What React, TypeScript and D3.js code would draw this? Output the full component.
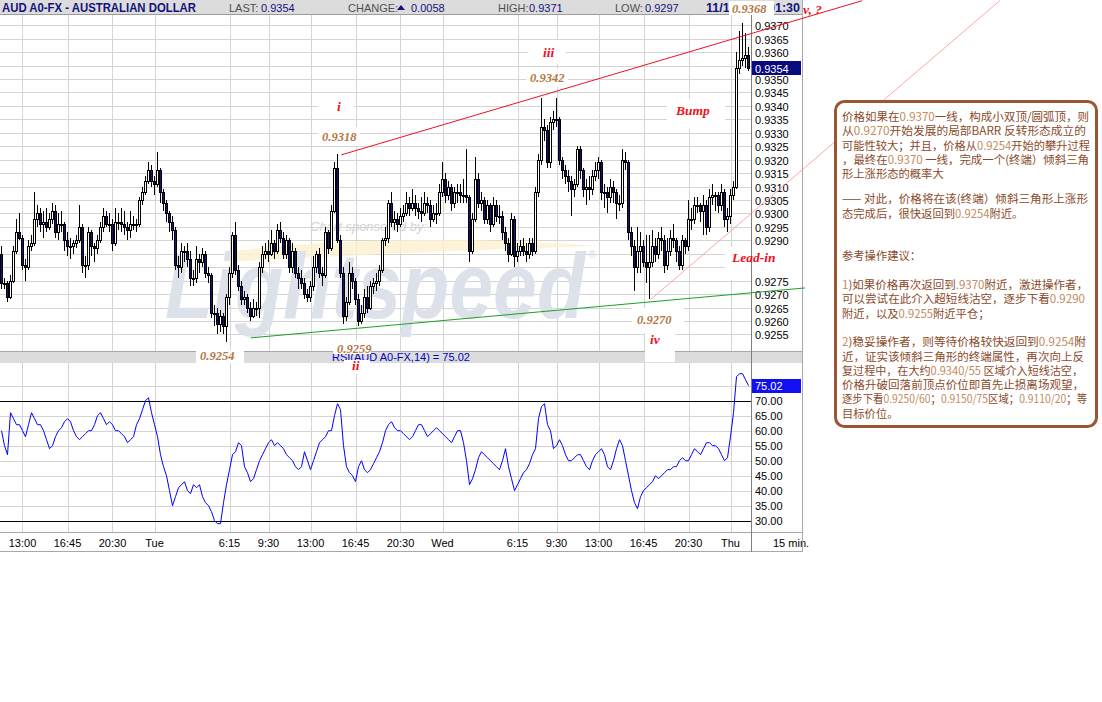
import React from 'react';
import * as d3 from 'd3';

// ---------- DATA (prices in pips above 0.9200, 15-minute bars from Mon 11:15) ----------
const firstOpenPips = 85;
const closePips = [
  74,74,69,75,86,93,91,81,80,88, 89,98,100,96,97,95,98,101,93,96,
  96,90,88,88,89,90,95,81,81,93, 88,87,90,95,99,96,96,89,97,97,
  96,95,94,96,96,96,105,108,112,116, 112,111,116,108,104,100,97,94,81,80,
  86,86,83,76,76,83,82,85,78,77, 63,63,59,62,58,69,78,92,79,73,
  68,69,65,62,65,65,80,85,86,85, 89,86,94,91,85,90,80,86,78,76,
  74,70,69,73,80,85,78,77,93,87, 101,117,90,78,62,67,78,75,68,60,
  63,69,65,73,74,75,79,90,91,104, 97,98,96,99,100,104,102,104,102,101,
  100,104,103,98,100,100,108,113,107,110, 104,108,108,107,107,106,86,98,113,104,
  105,98,103,96,103,99,99,93,89,85, 98,84,86,88,86,85,89,86,108,120,
  132,131,119,134,135,135,120,116,114,112, 109,111,124,116,109,110,109,114,116,119,
  108,108,106,110,108,104,104,120,119,93, 88,80,86,88,82,80,82,88,85,91,
  90,81,86,91,90,86,81,90,88,98, 98,103,103,101,103,95,106,107,107,103,
  108,98,99,107,110,154,157,158,159,154,
];
const highPips = [
  88,76,75,77,88,98,100,92,83,90, 92,108,103,102,101,102,100,104,103,100,
  101,97,93,91,90,92,103,96,84,95, 94,89,92,97,102,101,100,98,102,100,
  102,101,97,101,99,98,106,110,114,119, 118,114,123,117,109,105,101,99,95,84,
  89,88,89,86,79,88,85,87,86,80, 78,66,65,64,63,70,80,93,97,81,
  75,71,70,67,68,67,82,88,89,90, 94,90,96,97,93,92,91,89,87,80,
  79,76,72,75,84,86,87,80,95,94, 103,119,122,92,80,69,82,80,76,70,
  66,72,73,75,76,78,81,91,95,105, 108,101,100,102,103,108,106,109,107,104,
  106,108,106,105,103,104,111,119,115,112, 111,110,111,111,113,124,107,100,121,115,
  108,106,105,104,106,105,103,101,95,91, 100,99,89,90,91,89,91,91,110,122,
  143,135,133,136,138,143,136,121,118,116, 114,113,125,125,117,113,114,116,119,121,
  120,111,110,113,112,109,107,124,123,120, 95,90,95,93,90,92,92,94,91,93,
  95,92,91,94,96,91,88,92,91,105, 102,106,106,104,107,105,109,111,108,108,
  111,109,102,109,112,160,168,171,167,162,
];
const lowPips = [
  72,72,67,68,74,85,90,79,75,79, 86,88,95,93,91,93,94,96,91,90,
  93,86,84,83,85,87,89,78,76,79, 84,82,85,89,93,95,93,86,88,94,
  93,92,90,91,94,93,95,103,107,111, 110,107,110,104,101,97,93,90,79,76,
  78,82,80,73,73,74,78,80,76,74, 61,58,55,56,55,52,66,76,77,71,
  66,66,63,60,61,62,61,78,83,82, 84,83,85,89,83,83,78,78,76,72,
  72,68,67,67,71,78,76,73,76,85, 86,100,89,76,59,60,66,72,66,58,
  59,61,63,64,70,71,73,78,88,89, 95,94,93,95,97,99,99,101,99,98,
  97,99,100,95,97,96,99,106,104,105, 101,102,104,104,104,104,82,85,97,102,
  101,96,96,93,95,97,96,90,86,82, 84,80,82,84,84,82,83,84,85,106,
  118,127,117,117,131,132,118,113,111,108, 99,106,110,113,106,103,105,107,112,113,
  105,102,100,104,104,98,101,102,116,90, 84,71,78,78,80,74,68,80,82,83,
  86,78,79,84,87,82,79,79,85,86, 94,96,100,97,92,92,93,103,101,100,
  101,95,93,96,105,109,152,155,154,153,
];
const rsiValues = [
  60,55,52,66,64,62,62,60,58,62, 66,64,62,62,60,57,54,55,58,60,
  61,63,64,63,60,58,57,58,59,60, 60,62,65,66,64,62,63,62,60,60,
  59,58,56,57,58,62,64,67,70,71, 66,62,58,52,48,45,40,35,38,41,
  42,43,40,39,42,41,42,38,36,35, 33,30,29,29,36,42,47,52,53,56,
  55,48,46,43,44,47,50,52,54,56, 57,55,56,55,54,52,51,50,48,47,
  48,53,50,47,50,53,56,57,58,60, 60,65,69,67,55,48,46,45,43,48,
  50,47,46,47,49,51,53,56,60,62, 63,61,60,60,59,58,57,58,60,62,
  62,60,58,59,60,61,60,59,58,57, 56,58,60,60,56,50,42,44,47,51,
  53,52,51,50,49,48,47,50,54,48, 44,40,42,44,46,47,49,52,54,64,
  68,69,62,60,54,55,57,55,52,50, 50,51,52,52,50,48,47,50,52,53,
  54,52,48,47,50,54,57,55,50,45, 40,36,34,38,40,41,42,43,45,44,
  45,46,47,47,48,48,50,51,50,50, 52,54,53,52,54,56,56,55,55,54,
  52,50,51,58,66,78,79,79,77,75.02,
];
const priceTicks = [0.9370,0.9365,0.9360,0.9355,0.9350,0.9345,0.9340,0.9335,0.9330,0.9325,0.9320,0.9315,0.9310,0.9305,0.9300,0.9295,0.9290,0.9285,0.9280,0.9275,0.9270,0.9265,0.9260,0.9255];
const rsiTicks = [70,65,60,55,50,45,40,35,30];
const timeTickBars = [7,22,37,51,76,89,103,118,133,147,172,185,199,214,229,243];
const timeTickLabels = ['13:00','16:45','20:30','Tue','6:15','9:30','13:00','16:45','20:30','Wed','6:15','9:30','13:00','16:45','20:30','Thu'];
const lastPrice = 0.9354;
const lastRsi = 75.02;
// trend lines: [barIndex, price] anchors
const upperLine = [[113.3, 0.93218], [249.5, 0.93668]];
const lowerLine = [[83, 0.92537], [268, 0.92723]];
const leadLine = [[216.3, 0.92679], [333, 0.93794]];

const infoLines = [
  '价格如果在0.9370一线，构成小双顶/圆弧顶，则',
  '从0.9270开始发展的局部BARR 反转形态成立的',
  '可能性较大；并且，价格从0.9254开始的攀升过程',
  '，最终在0.9370 一线，完成一个(终端）倾斜三角',
  '形上涨形态的概率大',
  '—— 对此，价格将在该(终端）倾斜三角形上涨形',
  '态完成后，很快返回到0.9254附近。',
  '参考操作建议：',
  '1)如果价格再次返回到.9370附近，激进操作者，',
  '可以尝试在此介入超短线沽空，逐步下看0.9290',
  '附近，以及0.9255附近平仓；',
  '2)稳妥操作者，则等待价格较快返回到0.9254附',
  '近，证实该倾斜三角形的终端属性，再次向上反',
  '复过程中，在大约0.9340/55 区域介入短线沽空，',
  '价格升破回落前顶点价位即首先止损离场观望，',
  '逐步下看0.9250/60；0.9150/75区域；0.9110/20；等',
  '目标价位。',
];
const infoSlots = [0,1,2,3,4,5.75,6.75,9.75,11.75,12.75,13.75,15.75,16.75,17.75,18.75,19.75,20.75];
const infoWidths = [247,244,248,247,0,246,0,0,246,243,0,244,242,241,242,245,0];

const toPrice = (p: number) => 0.92 + p / 10000;

const SANS = '"Liberation Sans", Arial, sans-serif';
const SERIF = '"Liberation Serif", "Times New Roman", serif';
const CJK = '"Noto Sans CJK SC", sans-serif';

function splitNums(s: string) {
  const parts: { t: string; num: boolean }[] = [];
  const re = /[0-9.\/]*[0-9][0-9.\/]*/g;
  let last = 0;
  let m: RegExpExecArray | null;
  while ((m = re.exec(s))) {
    if (m.index > last) parts.push({ t: s.slice(last, m.index), num: false });
    parts.push({ t: m[0], num: true });
    last = m.index + m[0].length;
  }
  if (last < s.length) parts.push({ t: s.slice(last), num: false });
  return parts;
}

export default function App() {
  const n = closePips.length;
  const x = d3.scaleLinear().domain([0, n - 1]).range([1.5, 748.5]);
  const yP = d3.scaleLinear().domain([0.9255, 0.9370]).range([334.4, 25.3]);
  const yR = d3.scaleLinear().domain([30, 70]).range([520.7, 400.7]);
  const crisp = (v: number) => Math.round(v) + 0.5;

  const candles = closePips.map((c, i) => {
    const o = i === 0 ? firstOpenPips : closePips[i - 1];
    const open = toPrice(o), close = toPrice(c);
    const hi = toPrice(Math.max(highPips[i], o, c));
    const lo = toPrice(Math.min(lowPips[i], o, c));
    const cx = x(i);
    const top = Math.round(yP(Math.max(open, close)));
    const bot = Math.round(yP(Math.min(open, close)));
    return { cx, open, close, hi, lo, top, bot, up: close >= open };
  });

  const rsiLine = d3.line<number>().x((_, i) => x(i)).y((v) => yR(v))(rsiValues) || '';

  const linePts = (pts: number[][], x1: number, x2: number) => {
    const [a, b] = pts;
    const s = (b[1] - a[1]) / (b[0] - a[0]);
    const i1 = x.invert(x1), i2 = x.invert(x2);
    return { x1, y1: yP(a[1] + s * (i1 - a[0])), x2, y2: yP(a[1] + s * (i2 - a[0])) };
  };
  const up = linePts(upperLine, x(upperLine[0][0]), 862);
  const lw = linePts(lowerLine, x(lowerLine[0][0]), 805);
  const ld = linePts(leadLine, x(leadLine[0][0]), 1000);

  const gridC = '#d4d4d4';
  const navy = '#12127a';
  const labelBrown = '#b5773f';
  const red = '#f01020';

  const whiteBoxes = [
    [729, 1, 45, 14], [318, 95, 36, 24], [318, 127, 42, 19], [528, 40, 38, 24], [526, 69, 42, 18],
    [667, 99, 58, 30], [725, 247, 75, 33], [632, 308, 52, 25], [645, 333, 30, 29], [196, 350, 48, 13],
    [333, 341, 38, 13], [344, 360, 26, 14],
  ];

  return (
    <svg width={1102} height={702} style={{ position: 'absolute', left: 0, top: 0, background: '#fff' }}>
      <rect x={0} y={0} width={1102} height={702} fill="#fff" />
      {/* header */}
      <rect x={0} y={0} width={802} height={14} fill="#dcdcdc" />
      <line x1={0} x2={802} y1={14.5} y2={14.5} stroke="#9c9c9c" />
      <text x={2} y={12} fontFamily={SANS} fontWeight="bold" fontSize={12.5} fill={navy} textLength={194} lengthAdjust="spacingAndGlyphs">AUD A0-FX - AUSTRALIAN DOLLAR</text>
      <g fontFamily={SANS} fontSize={11}>
        <text x={229} y={11.5} fill="#505050">LAST:</text>
        <text x={261} y={11.5} fill={navy}>{lastPrice.toFixed(4)}</text>
        <text x={348} y={11.5} fill="#505050">CHANGE:</text>
        <path d="M397,10 L401,5 L405,10 Z" fill={navy} />
        <text x={411} y={11.5} fill={navy}>0.0058</text>
        <text x={498} y={11.5} fill="#505050">HIGH:</text>
        <text x={529} y={11.5} fill={navy}>0.9371</text>
        <text x={615} y={11.5} fill="#505050">LOW:</text>
        <text x={645} y={11.5} fill={navy}>0.9297</text>
      </g>
      <text x={706} y={12} fontFamily={SANS} fontWeight="bold" fontSize={12.5} fill={navy}>11/11</text>
      <text x={800} y={12} textAnchor="end" fontFamily={SANS} fontWeight="bold" fontSize={12.5} fill={navy}>01:30</text>

      {/* price panel grid */}
      {timeTickBars.map((b, k) => (
        <g key={'vg' + k}>
          <line x1={crisp(x(b))} x2={crisp(x(b))} y1={15} y2={351} stroke={gridC} />
          <line x1={crisp(x(b))} x2={crisp(x(b))} y1={363} y2={532} stroke={gridC} />
        </g>
      ))}
      {priceTicks.map((p, k) => (
        <line key={'hg' + k} x1={0} x2={751} y1={crisp(yP(p))} y2={crisp(yP(p))} stroke={gridC} />
      ))}

      {/* watermark */}
      <path d="M225,252 C330,238 470,236 600,246 C470,250 340,256 225,262 Z" fill="#fbf0cf" opacity={0.8} />
      <text x={310} y={231} fontFamily={SANS} fontStyle="italic" fontSize={13} fill="#d2d2d2">Chart sponsored by:</text>
      <text x={165} y={318} fontFamily={SANS} fontStyle="italic" fontWeight="bold" fontSize={92} fill="#dde2ea" textLength={420} lengthAdjust="spacingAndGlyphs">Lightspeed</text>
      <text x={588} y={258} fontFamily={SANS} fontSize={11} fill="#dde2ea">®</text>

      {/* candles */}
      {candles.map((c, i) => (
        <g key={'c' + i}>
          <line x1={c.cx} x2={c.cx} y1={Math.round(yP(c.hi))} y2={Math.round(yP(c.lo))} stroke="#000" strokeWidth={1} />
          <rect x={c.cx - 1} y={c.top + 0.5} width={2} height={Math.max(c.bot - c.top, 1)} fill={c.up ? '#fff' : navy} stroke="#000" strokeWidth={1} />
        </g>
      ))}

      {/* grey band between panels */}
      <rect x={0} y={351} width={802} height={12} fill="#dcdcdc" />
      <line x1={0} x2={802} y1={351.5} y2={351.5} stroke="#a8a8a8" />
      <text x={332} y={361} fontFamily={SANS} fontSize={11} fill="#0000c8">RSI(AUD A0-FX,14) = {lastRsi.toFixed(2)}</text>

      {/* RSI panel */}
      {[65, 60, 55, 50, 45, 40, 35, 75].map((v) => (
        <line key={'rg' + v} x1={0} x2={751} y1={crisp(yR(v))} y2={crisp(yR(v))} stroke={gridC} />
      ))}
      <line x1={0} x2={751} y1={crisp(yR(70))} y2={crisp(yR(70))} stroke="#000" />
      <line x1={0} x2={751} y1={crisp(yR(30))} y2={crisp(yR(30))} stroke="#000" />
      <path d={rsiLine} fill="none" stroke="#0000ff" strokeWidth={1} />

      {/* x axis */}
      <line x1={0} x2={802} y1={532.5} y2={532.5} stroke="#a8a8a8" />
      <line x1={0} x2={802} y1={551.5} y2={551.5} stroke="#a8a8a8" />
      {timeTickBars.map((b, k) => (
        <text key={'xl' + k} x={x(b)} y={547} textAnchor="middle" fontFamily={SANS} fontSize={11} fill="#000">{timeTickLabels[k]}</text>
      ))}
      <text x={773} y={547} fontFamily={SANS} fontSize={11} fill="#000">15 min.</text>

      {/* white label boxes */}
      {whiteBoxes.map((b, k) => (
        <rect key={'wb' + k} x={b[0]} y={b[1]} width={b[2]} height={b[3]} fill="#fff" />
      ))}

      {/* right axes */}
      <line x1={751.5} x2={751.5} y1={15} y2={552} stroke="#808080" />
      <line x1={802.5} x2={802.5} y1={0} y2={552} stroke="#a8a8a8" />
      {priceTicks.filter((p) => p < 0.92775 || p > 0.92875).map((p, k) => (
        <text key={'pl' + k} x={755} y={yP(p) + 5} fontFamily={SANS} fontSize={11} fill="#000">{p.toFixed(4)}</text>
      ))}
      <rect x={752} y={Math.round(yP(lastPrice)) - 7} width={49} height={14} fill="#0a0a80" />
      <text x={755} y={yP(lastPrice) + 4.5} fontFamily={SANS} fontSize={11} fill="#fff">{lastPrice.toFixed(4)}</text>
      {rsiTicks.map((v) => (
        <text key={'rl' + v} x={755} y={yR(v) + 4} fontFamily={SANS} fontSize={11} fill="#000">{v.toFixed(2)}</text>
      ))}
      <rect x={752} y={Math.round(yR(lastRsi)) - 7} width={49} height={14} fill="#1010f0" />
      <text x={755} y={yR(lastRsi) + 4} fontFamily={SANS} fontSize={11} fill="#fff">{lastRsi.toFixed(2)}</text>

      {/* trend lines */}
      <line {...lw} stroke="#1aa02a" strokeWidth={1} />
      <line {...ld} stroke="#ff9090" strokeWidth={0.8} />
      <line {...up} stroke="#f01020" strokeWidth={1} />

      {/* annotations */}
      <g fontFamily={SERIF} fontStyle="italic" fontSize={12.5} fill={labelBrown} fontWeight="bold">
        <text x={732} y={13}>0.9368</text>
        <text x={322} y={141}>0.9318</text>
        <text x={530} y={82}>0.9342</text>
        <text x={637} y={324}>0.9270</text>
        <text x={200} y={360}>0.9254</text>
        <text x={337} y={353}>0.9259</text>
      </g>
      <g fontFamily={SERIF} fontStyle="italic" fontWeight="bold" fontSize={13.5} fill={red}>
        <text x={337} y={111}>i</text>
        <text x={352} y={370}>ii</text>
        <text x={543} y={57}>iii</text>
        <text x={650} y={344}>iv</text>
        <text x={676} y={115}>Bump</text>
        <text x={732} y={262}>Lead-in</text>
        <text x={803} y={14}>v, ?</text>
      </g>

      {/* info box */}
      <rect x={835.5} y={101.5} width={261} height={325} rx={9} fill="#fff" stroke="#9a5535" strokeWidth={3} />
      {infoLines.map((line, k) => (
        <text key={'il' + k} x={842} y={117 + infoSlots[k] * 14.3 + 4} fontFamily={CJK} fontSize={11.3} fill="#8a4a2a"
          {...(infoWidths[k] ? { textLength: infoWidths[k], lengthAdjust: 'spacingAndGlyphs' } : {})}>
          {splitNums(line).map((p, j) => (
            <tspan key={j} fill={p.num ? '#c38a5e' : '#8a4a2a'}>{p.t}</tspan>
          ))}
        </text>
      ))}
    </svg>
  );
}
